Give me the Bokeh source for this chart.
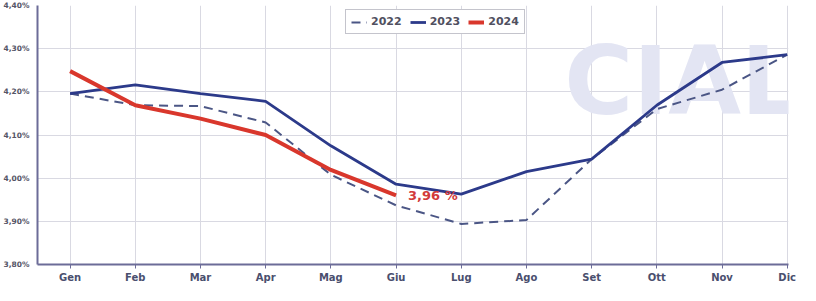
from bokeh.plotting import figure
from bokeh.models import (Range1d, FixedTicker, CustomJSTickFormatter, Legend, LegendItem,
                          Label, ColumnDataSource)
from bokeh.embed import file_html
from bokeh.resources import INLINE

months = ["Gen", "Feb", "Mar", "Apr", "Mag", "Giu", "Lug", "Ago", "Set", "Ott", "Nov", "Dic"]
values_2022 = [4.196, 4.169, 4.167, 4.129, 4.008, 3.937, 3.894, 3.903, 4.044, 4.160, 4.205, 4.286]
values_2023 = [4.196, 4.216, 4.196, 4.178, 4.075, 3.986, 3.963, 4.015, 4.044, 4.169, 4.268, 4.286]
values_2024 = [4.248, 4.169, 4.138, 4.100, 4.019, 3.960]
y_ticks = [3.8, 3.9, 4.0, 4.1, 4.2, 4.3, 4.4]
last_label = "3,96 %"

idx = list(range(len(months)))

p = figure(width=800, height=285, output_backend="svg", toolbar_location=None,
           x_range=Range1d(-0.5, 11.02), y_range=Range1d(3.8, 4.4),
           min_border_left=30, min_border_right=12, min_border_top=5, min_border_bottom=17)
p.outline_line_color = None
p.background_fill_color = "white"

# watermark
wm = Label(x=7.58, y=4.225, text="CIAL", text_font="DejaVu Sans",
           text_font_style="bold", text_font_size="94px", text_color="#e3e5f3",
           text_baseline="alphabetic", level="underlay")
p.add_layout(wm)

p.xgrid.ticker = FixedTicker(ticks=idx)
p.xgrid.grid_line_color = "#d9d9e2"
p.ygrid.grid_line_color = "#d9d9e2"
p.xgrid.grid_line_width = 1
p.ygrid.grid_line_width = 1

p.xaxis.ticker = FixedTicker(ticks=idx)
p.xaxis.major_label_overrides = {i: m for i, m in zip(idx, months)}
p.yaxis.ticker = FixedTicker(ticks=y_ticks)
p.yaxis.formatter = CustomJSTickFormatter(code="return tick.toFixed(2).replace('.', ',') + '%';")

for ax in (p.xaxis[0], p.yaxis[0]):
    ax.axis_line_color = "#6c6c98"
    ax.axis_line_width = 2
    ax.minor_tick_line_color = None
    ax.major_label_text_font = "DejaVu Sans"
    ax.major_label_text_font_style = "bold"
p.xaxis.major_tick_line_color = "#6c6c98"
p.xaxis.major_tick_in = 0
p.xaxis.major_tick_out = 4
p.xaxis.major_label_text_font_size = "10px"
p.xaxis.major_label_text_color = "#4a4f6e"
p.xaxis.major_label_standoff = 3
p.yaxis.major_tick_line_color = None
p.yaxis.major_label_text_font_size = "7.5px"
p.yaxis.major_label_text_color = "#555566"
p.yaxis.major_label_standoff = 2

src22 = ColumnDataSource(dict(x=idx, y=values_2022))
src23 = ColumnDataSource(dict(x=idx, y=values_2023))
src24 = ColumnDataSource(dict(x=idx[:len(values_2024)], y=values_2024))

r22 = p.line("x", "y", source=src22, line_color="#4b5685", line_width=2, line_dash="9 6")
r23 = p.line("x", "y", source=src23, line_color="#2c3a8a", line_width=2.8)
r24 = p.line("x", "y", source=src24, line_color="#d9372c", line_width=4)

lab = Label(x=idx[len(values_2024) - 1], y=values_2024[-1], text=last_label, x_offset=12,
            text_color="#d23b3b", text_font="DejaVu Sans", text_font_style="bold",
            text_font_size="13px", text_baseline="middle")
p.add_layout(lab)

legend = Legend(items=[LegendItem(label="2022", renderers=[r22]),
                       LegendItem(label="2023", renderers=[r23]),
                       LegendItem(label="2024", renderers=[r24])],
                orientation="horizontal", location=(308, 230))
legend.label_text_font = "DejaVu Sans"
legend.label_text_font_style = "bold"
legend.label_text_font_size = "11px"
legend.label_text_color = "#505060"
legend.border_line_color = "#8a8a9a"
legend.border_line_width = 1.5
legend.padding = 5
legend.spacing = 8
legend.glyph_width = 16
legend.glyph_height = 12
legend.label_standoff = 4
legend.background_fill_color = "white"
legend.background_fill_alpha = 1
p.add_layout(legend, "center")

open("out.html", "w").write(file_html(p, INLINE))
